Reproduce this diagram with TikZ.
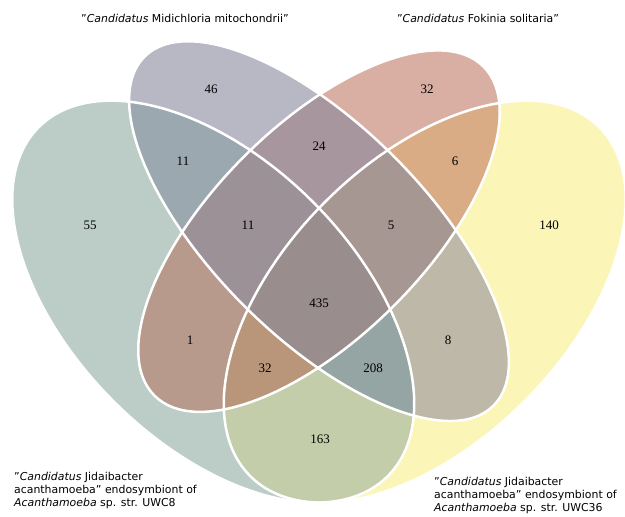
\documentclass[tikz,border=0pt]{standalone}
\usepackage{fontspec}
\setmainfont{DejaVu Sans}
\newfontfamily\numfont{Liberation Serif}
\newcommand{\dq}{\symbol{34}}
\definecolor{cT}{RGB}{188,205,200}
\definecolor{cL}{RGB}{184,184,197}
\definecolor{cS}{RGB}{216,175,162}
\definecolor{cY}{RGB}{251,246,184}
\definecolor{cTL}{RGB}{155,168,176}
\definecolor{cLS}{RGB}{168,150,159}
\definecolor{cSY}{RGB}{217,172,133}
\definecolor{cTS}{RGB}{184,154,140}
\definecolor{cLY}{RGB}{189,184,168}
\definecolor{cTY}{RGB}{195,205,169}
\definecolor{cTLS}{RGB}{156,145,150}
\definecolor{cLSY}{RGB}{166,151,146}
\definecolor{cTSY}{RGB}{185,150,122}
\definecolor{cTLY}{RGB}{149,165,164}
\definecolor{cTLSY}{RGB}{153,141,142}
\begin{document}
\begin{tikzpicture}[x=1pt,y=1pt,
  ellT/.style={shift={(213.25,215.35)},rotate=135,insert path={(0,0) ellipse [x radius=246.75,y radius=141]}},
  ellY/.style={shift={(424.75,215.35)},rotate=45,insert path={(0,0) ellipse [x radius=246.75,y radius=141]}},
  ellL/.style={shift={(319,285.85)},rotate=135,insert path={(0,0) ellipse [x radius=246.75,y radius=105.75]}},
  ellS/.style={shift={(319,285.85)},rotate=45,insert path={(0,0) ellipse [x radius=232.65,y radius=105.75]}},
  outline/.style={draw=white,line width=2.5pt},
  num/.style={font=\numfont\fontsize{13}{15}\selectfont,inner sep=0pt},
  lab/.style={font=\fontsize{10.9}{13.2}\selectfont,inner sep=0pt,align=left},
]
\fill[white] (0,0) rectangle (625,517);
\useasboundingbox (0,0) rectangle (625,517);
% singles
\fill[cY,ellY];
\fill[cT,ellT];
\fill[cL,ellL];
\fill[cS,ellS];
% pairs
\begin{scope}\clip[ellT];\fill[cTL,ellL];\end{scope}
\begin{scope}\clip[ellT];\fill[cTS,ellS];\end{scope}
\begin{scope}\clip[ellT];\fill[cTY,ellY];\end{scope}
\begin{scope}\clip[ellL];\fill[cLS,ellS];\end{scope}
\begin{scope}\clip[ellL];\fill[cLY,ellY];\end{scope}
\begin{scope}\clip[ellS];\fill[cSY,ellY];\end{scope}
% triples
\begin{scope}\clip[ellT];\clip[ellL];\fill[cTLS,ellS];\end{scope}
\begin{scope}\clip[ellT];\clip[ellL];\fill[cTLY,ellY];\end{scope}
\begin{scope}\clip[ellT];\clip[ellS];\fill[cTSY,ellY];\end{scope}
\begin{scope}\clip[ellL];\clip[ellS];\fill[cLSY,ellY];\end{scope}
% all four
\begin{scope}\clip[ellT];\clip[ellL];\clip[ellS];\fill[cTLSY,ellY];\end{scope}
% outlines
\path[outline,ellY];
\path[outline,ellT];
\path[outline,ellL];
\path[outline,ellS];
% numbers
\node[num] (n46) at (211,428) {46};
\node[num] (n32a) at (427,428) {32};
\node[num] (n11a) at (183,356) {11};
\node[num] (n24) at (319,371) {24};
\node[num] (n6) at (455,356) {6};
\node[num] (n55) at (90,292) {55};
\node[num] (n11b) at (248,292) {11};
\node[num] (n5) at (391,292) {5};
\node[num] (n140) at (549,292) {140};
\node[num] (n435) at (319,214) {435};
\node[num] (n1) at (190,177) {1};
\node[num] (n8) at (448,177) {8};
\node[num] (n32b) at (265,149) {32};
\node[num] (n208) at (373,149) {208};
\node[num] (n163) at (320,78) {163};
% labels
\node[lab] (labL) at (185,499) {\dq\textit{Candidatus} Midichloria mitochondrii\dq};
\node[lab] (labS) at (478,499) {\dq\textit{Candidatus} Fokinia solitaria\dq};
\node[lab,anchor=north west] (labT) at (14,45) {\dq\textit{Candidatus} Jidaibacter\\acanthamoeba\dq{} endosymbiont of\\\textit{Acanthamoeba} sp. str. UWC8};
\node[lab,anchor=north west] (labY) at (434,40) {\dq\textit{Candidatus} Jidaibacter\\acanthamoeba\dq{} endosymbiont of\\\textit{Acanthamoeba} sp. str. UWC36};
\end{tikzpicture}
\end{document}
